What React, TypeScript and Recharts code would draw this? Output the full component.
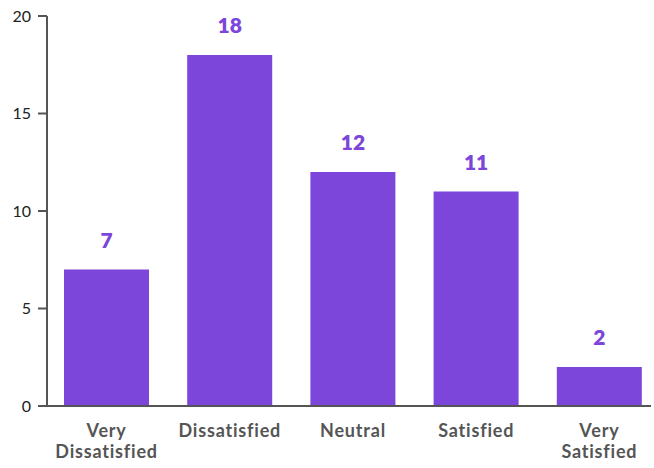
import { BarChart, Bar, XAxis, YAxis, LabelList } from "recharts";

const categories = ["Very Dissatisfied", "Dissatisfied", "Neutral", "Satisfied", "Very Satisfied"];
const responses = [7, 18, 12, 11, 2];
const yTicks = [0, 5, 10, 15, 20];

const data = categories.map((name, i) => ({ name, value: responses[i] }));

const PURPLE = "#7b46d9";
const AXIS = "#555555";
const FONT = "Lato, 'Open Sans', sans-serif";

function CategoryTick(props: any) {
    const { x, y, payload } = props;
    const label: string = payload.value;
    // "Very X" goes on two lines, the rest stay on one
    const lines = label.startsWith("Very ") ? ["Very", label.slice(5)] : [label];
    return (
        <text
            x={x}
            y={y}
            textAnchor="middle"
            fill={AXIS}
            fontSize={18}
            fontWeight={700}
            letterSpacing={0.8}
            fontFamily={FONT}
        >
            {lines.map((line, i) => (
                <tspan key={i} x={x} dy={i === 0 ? 31 : 21}>{line}</tspan>
            ))}
        </text>
    );
}

export default function App() {
    return (
        <div style={{ position: "absolute", left: 0, top: 0, width: 654, height: 468, background: "#fff" }}>
            <BarChart
                width={654}
                height={468}
                data={data}
                margin={{ top: 16, right: 3, bottom: 0, left: 0 }}
            >
                <XAxis
                    dataKey="name"
                    height={62}
                    interval={0}
                    tickLine={false}
                    tickSize={0}
                    tickMargin={0}
                    padding={{ left: -2, right: -10 }}
                    axisLine={{ stroke: AXIS, strokeWidth: 2 }}
                    tick={<CategoryTick />}
                />
                <YAxis
                    width={47}
                    domain={[0, 20]}
                    ticks={yTicks}
                    tickSize={9}
                    tickMargin={7}
                    axisLine={{ stroke: AXIS, strokeWidth: 2 }}
                    tickLine={{ stroke: AXIS, strokeWidth: 2 }}
                    tick={{ fill: "#222", fontSize: 16, fontFamily: FONT }}
                />
                <Bar dataKey="value" fill={PURPLE} barSize={85} isAnimationActive={false}>
                    <LabelList
                        dataKey="value"
                        position="top"
                        offset={22}
                        fill={PURPLE}
                        fontSize={21}
                        fontWeight={800}
                        fontFamily={FONT}
                    />
                </Bar>
            </BarChart>
        </div>
    );
}
